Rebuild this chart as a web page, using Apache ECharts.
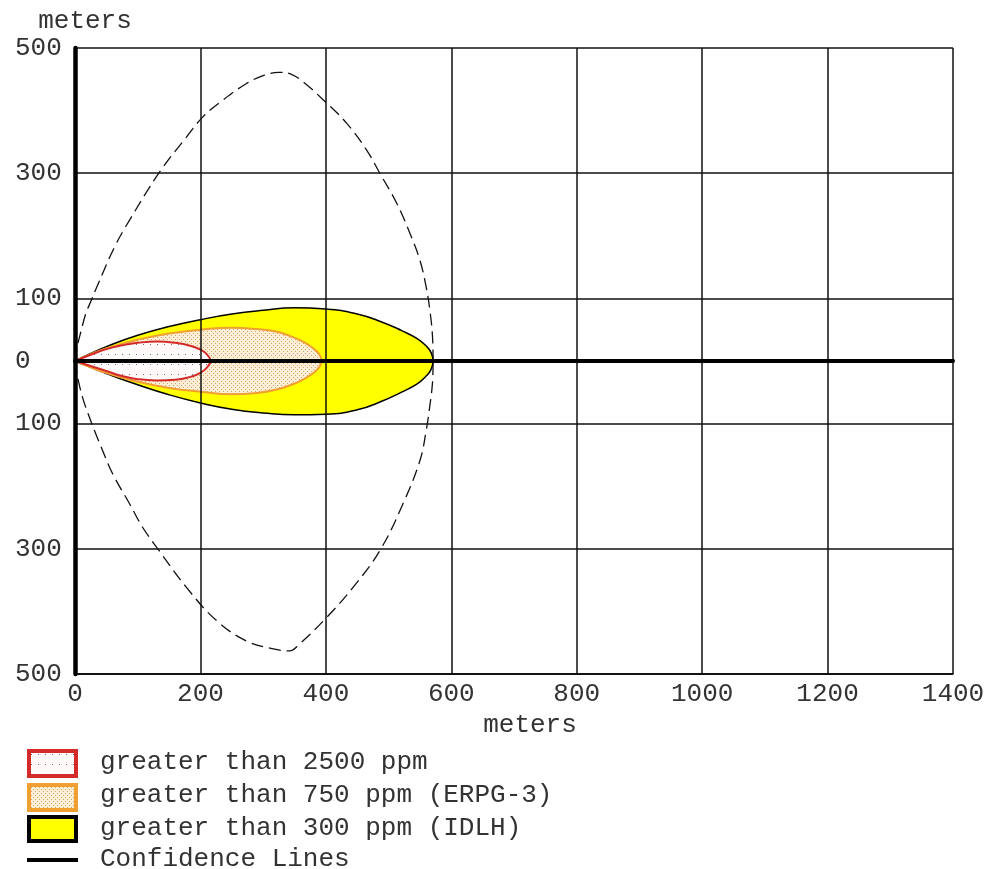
<!DOCTYPE html>
<html><head><meta charset="utf-8">
<script src="https://cdn.jsdelivr.net/npm/echarts@6/dist/echarts.min.js"></script>
<style>html,body{margin:0;padding:0;background:#fff;overflow:hidden}#c{width:988px;height:869px}</style>
</head><body><div id="c"></div>
<script>
// ---- data (meters) ----
const xMin = 0, xMax = 1400, xStep = 200;
const yMin = -500, yMax = 500, yStep = 100;
const yLabelValues = [-500, -300, -100, 0, 100, 300, 500];

const yellowUpper = [[0,0],[25,12],[50,23],[100,41],[150,55],[200,66],[250,75],[300,81],[350,85],[400,83],[450,75],[490,62],[520,49],[545,36],[560,24],[568,13],[571,0]];
const yellowLower = [[0,0],[25,-10],[50,-20],[100,-38],[150,-54],[200,-67],[250,-77],[300,-83],[350,-86],[400,-85],[450,-78],[490,-64],[520,-50],[545,-37],[560,-24],[568,-13],[571,0]];
const orangeUpper = [[0,0],[25,11],[50,20],[100,34],[150,44],[200,50],[250,53],[290,51],[320,47],[345,39],[365,30],[380,20],[390,10],[393,0]];
const orangeLower = [[0,0],[25,-10],[50,-19],[100,-33],[150,-43],[200,-49],[250,-53],[290,-51],[320,-46],[345,-38],[365,-29],[380,-19],[390,-9],[393,0]];
const redUpper = [[0,0],[25,10],[50,19],[75,25],[100,29],[130,31],[160,29],[185,24],[200,18],[210,11],[217,0]];
const redLower = [[0,0],[25,-8],[50,-16],[75,-24],[100,-29],[130,-31],[160,-30],[185,-25],[200,-19],[210,-11],[217,0]];
const confUpper = [[0,0],[4,25],[10,49],[17,75],[26,97],[36,121],[63,182],[87,225],[135,302],[178,358],[204,390],[236,417],[273,443],[300,456],[325,461],[345,458],[365,445],[396,417],[433,380],[465,337],[486,300],[513,252],[534,204],[550,161],[560,118],[566,80],[570,40],[571,0]];
const confLower = [[0,0],[4,-25],[12,-58],[23,-90],[31,-111],[42,-138],[60,-180],[87,-228],[108,-266],[132,-300],[178,-362],[226,-415],[273,-447],[316,-460],[342,-463],[358,-452],[401,-410],[443,-362],[486,-303],[523,-228],[550,-159],[560,-111],[566,-70],[570,-35],[571,0]];

const legendLabels = ['greater than 2500 ppm', 'greater than 750 ppm (ERPG-3)', 'greater than 300 ppm (IDLH)', 'Confidence Lines'];
const axisTitle = 'meters';

// ---- styles ----
const FONT = '"Liberation Mono", "DejaVu Sans Mono", monospace';
const TXT = '#333';
function pattern(bg, dot, w, h, dots) {
  const c = document.createElement('canvas'); c.width = w; c.height = h;
  const g = c.getContext('2d'); g.fillStyle = bg; g.fillRect(0, 0, w, h);
  g.fillStyle = dot; dots.forEach(d => g.fillRect(d[0], d[1], 1, 1));
  return { image: c, repeat: 'repeat' };
}
const redPat = pattern('#fffafa', '#7a6a80', 7, 10, [[3, 4]]);
const orangePat = pattern('#fbefd9', '#d9a35e', 4, 4, [[1, 1], [3, 3]]);
const YELLOW = '#ffff00', ORANGE = '#f0a030', RED = '#d42a2a';

function zone(data, fill, stroke, lw) {
  return { type: 'line', data, smooth: 0.5, symbol: 'none', showSymbol: false,
    lineStyle: { color: stroke, width: lw }, areaStyle: { color: fill, opacity: 1 }, silent: true, z: 2 };
}
function conf(data) {
  return { type: 'line', data, smooth: 0.4, symbol: 'none', showSymbol: false,
    lineStyle: { color: '#111', width: 1.3, type: [12, 6] }, silent: true, z: 3 };
}

const chart = echarts.init(document.getElementById('c'), null, { renderer: 'canvas' });
const legendRows = [762, 795, 828, 859];
const graphic = [];
graphic.push({ type: 'rect', shape: { x: 29, y: 751, width: 47, height: 25 }, style: { fill: redPat, stroke: RED, lineWidth: 4 } });
graphic.push({ type: 'rect', shape: { x: 29, y: 785, width: 47, height: 25 }, style: { fill: orangePat, stroke: ORANGE, lineWidth: 4 } });
graphic.push({ type: 'rect', shape: { x: 29, y: 817, width: 47, height: 24 }, style: { fill: YELLOW, stroke: '#000', lineWidth: 4 } });
graphic.push({ type: 'line', shape: { x1: 27, y1: 860, x2: 78, y2: 860 }, style: { stroke: '#000', lineWidth: 4 } });
legendLabels.forEach((t, i) => graphic.push({ type: 'text', x: 100, y: legendRows[i],
  style: { text: t, fill: TXT, font: '26px ' + FONT, verticalAlign: 'middle', align: 'left' } }));

chart.setOption({
  animation: false,
  backgroundColor: '#fff',
  grid: { left: 75, right: 35, top: 48, bottom: 195, containLabel: false, outerBoundsMode: 'none' },
  xAxis: [{
    type: 'value', min: xMin, max: xMax, interval: xStep, z: 10,
    name: axisTitle, nameLocation: 'middle', nameGap: 29,
    nameTextStyle: { fontFamily: FONT, fontSize: 26, color: TXT, padding: [0, 0, 0, 32] },
    axisLine: { show: true, onZero: false, lineStyle: { color: '#000', width: 1.5 } },
    axisTick: { show: false },
    axisLabel: { fontFamily: FONT, fontSize: 26, color: TXT, margin: 7, formatter: v => String(v) },
    splitLine: { show: true, lineStyle: { color: '#111', width: 1.5 } }
  }, {
    type: 'value', min: xMin, max: xMax, position: 'top', z: 11,
    axisLine: { show: true, onZero: true, lineStyle: { color: '#000', width: 4 } },
    axisTick: { show: false }, axisLabel: { show: false }, splitLine: { show: false }
  }],
  yAxis: {
    type: 'value', min: yMin, max: yMax, interval: yStep, z: 10,
    name: axisTitle, nameLocation: 'end', nameGap: 14,
    nameTextStyle: { fontFamily: FONT, fontSize: 26, color: TXT, padding: [0, 0, 0, 20] },
    axisLine: { show: true, onZero: false, lineStyle: { color: '#000', width: 4.5 } },
    axisTick: { show: false },
    axisLabel: { fontFamily: FONT, fontSize: 26, color: TXT, align: 'left', margin: 60,
      formatter: v => yLabelValues.includes(v) ? String(Math.abs(v)) : '' },
    splitLine: { show: true, lineStyle: { color: ['#111', 'rgba(0,0,0,0)'], width: 1.5 } }
  },
  series: [
    zone(yellowUpper, YELLOW, '#000', 1.5), zone(yellowLower, YELLOW, '#000', 1.5),
    zone(orangeUpper, orangePat, ORANGE, 2), zone(orangeLower, orangePat, ORANGE, 2),
    zone(redUpper, redPat, RED, 2), zone(redLower, redPat, RED, 2),
    conf(confUpper), conf(confLower)
  ],
  graphic
});
</script></body></html>
